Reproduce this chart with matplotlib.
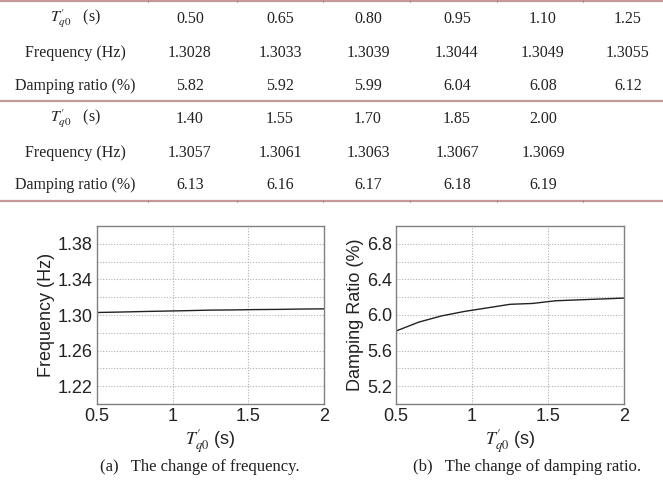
import numpy as np
import matplotlib
matplotlib.use("Agg")
import matplotlib.pyplot as plt
from matplotlib.lines import Line2D

plt.rcParams['font.family'] = ['Liberation Sans', 'DejaVu Sans']
plt.rcParams['mathtext.fontset'] = 'stix'

# table / series data
tq0 = [0.50, 0.65, 0.80, 0.95, 1.10, 1.25, 1.40, 1.55, 1.70, 1.85, 2.00]
freq = [1.3028, 1.3033, 1.3039, 1.3044, 1.3049, 1.3055,
        1.3057, 1.3061, 1.3063, 1.3067, 1.3069]
damp = [5.82, 5.92, 5.99, 6.04, 6.08, 6.12, 6.13, 6.16, 6.17, 6.18, 6.19]
row_labels = [r"$T^{\prime}_{q0}$   (s)", "Frequency (Hz)", "Damping ratio (%)"]

W, H = 663, 482
fig = plt.figure(figsize=(W / 100, H / 100), dpi=100)

def fx(px):
    return px / W

def fy(py):
    return 1 - py / H

serif = ['Liberation Serif', 'DejaVu Serif']
rule_c = '#c49a96'

# table rules
for yy in [1, 101, 201]:
    fig.add_artist(Line2D([0, 1], [fy(yy), fy(yy)], color=rule_c, lw=1.6))
col_x = [190, 280, 368, 457, 543, 628]
sep_x = [148, 237, 323, 410, 497, 583]
for sx in sep_x:
    for yy in [1, 201]:
        fig.add_artist(Line2D([fx(sx), fx(sx)], [fy(yy - 1.2), fy(yy + 1.2)],
                              color='#b08888', lw=0.6))

# table text
blocks = [(tq0[:6], freq[:6], damp[:6], [19, 53, 86]),
          (tq0[6:], freq[6:], damp[6:], [119, 153, 185])]
for ts, fs, ds, ys in blocks:
    for lab, yy in zip(row_labels, ys):
        fig.text(fx(75), fy(yy), lab, ha='center', va='center',
                 fontsize=11.5, family=serif, color='#222222')
    for i, (t, f, d) in enumerate(zip(ts, fs, ds)):
        fig.text(fx(col_x[i]), fy(ys[0]), f"{t:.2f}", ha='center', va='center',
                 fontsize=11.5, family=serif, color='#222222')
        fig.text(fx(col_x[i]), fy(ys[1]), f"{f:.4f}", ha='center', va='center',
                 fontsize=11.5, family=serif, color='#222222')
        fig.text(fx(col_x[i]), fy(ys[2]), f"{d:.2f}", ha='center', va='center',
                 fontsize=11.5, family=serif, color='#222222')

# plots
ax1 = fig.add_axes([fx(97), fy(404), (324 - 97) / W, (404 - 226) / H])
ax2 = fig.add_axes([fx(396), fy(404), (624 - 396) / W, (404 - 226) / H])

specs = [
    (ax1, freq, (1.20, 1.40), np.arange(1.22, 1.39, 0.04), np.arange(1.20, 1.401, 0.02),
     "Frequency (Hz)", "{:.2f}"),
    (ax2, damp, (5.0, 7.0), np.arange(5.2, 6.9, 0.4), np.arange(5.0, 7.01, 0.2),
     "Damping Ratio (%)", "{:.1f}"),
]
for ax, ys, lim, ticks, grid_ticks, ylab, fmt in specs:
    ax.plot(tq0, ys, color='#222222', lw=1.0)
    ax.set_xlim(0.5, 2)
    ax.set_ylim(*lim)
    for g in grid_ticks[1:-1]:
        ax.axhline(g, color='#b0b0b0', lw=0.8, ls=(0, (1, 1.5)), zorder=0)
    for g in [1.0, 1.5]:
        ax.axvline(g, color='#b0b0b0', lw=0.8, ls=(0, (1, 1.5)), zorder=0)
    ax.set_xticks([0.5, 1, 1.5, 2])
    ax.set_xticklabels(['0.5', '1', '1.5', '2'])
    ax.set_yticks(ticks)
    ax.set_yticklabels([fmt.format(t) for t in ticks])
    ax.tick_params(direction='in', length=0, labelsize=13, colors='#222222', pad=3)
    for s in ax.spines.values():
        s.set_color('#808080')
        s.set_linewidth(1.0)
    ax.set_ylabel(ylab, fontsize=13, color='#222222', labelpad=2)
    ax.set_xlabel(r"$T^{\prime}_{q0}$ (s)", fontsize=13, color='#222222', labelpad=2)

fig.text(fx(200), fy(467), "(a)   The change of frequency.", ha='center', va='center',
         fontsize=12, family=serif, color='#222222')
fig.text(fx(527), fy(467), "(b)   The change of damping ratio.", ha='center', va='center',
         fontsize=12, family=serif, color='#222222')

fig.savefig("out.png", dpi=100)
